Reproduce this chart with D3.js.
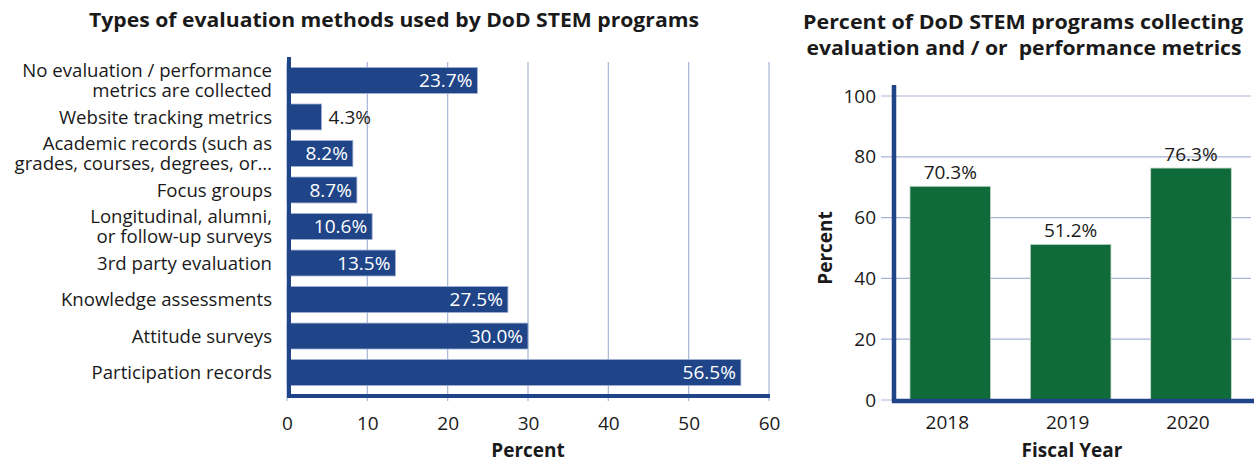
<!DOCTYPE html>
<html>
<head>
<meta charset="utf-8">
<script src="https://cdn.jsdelivr.net/npm/d3@7/dist/d3.min.js"></script>
<style>
  html, body { margin: 0; padding: 0; background: #ffffff; }
  svg { display: block; }
  text { font-family: "Open Sans", "Noto Sans", sans-serif; fill: #1a1a1a; }
</style>
</head>
<body>
<svg id="chart" width="1254" height="464"></svg>
<script>
// ---- Data: evaluation methods (left panel) ----
const methodLabels = [
  ["No evaluation / performance", "metrics are collected"],
  ["Website tracking metrics"],
  ["Academic records (such as", "grades, courses, degrees, or\u2026"],
  ["Focus groups"],
  ["Longitudinal, alumni,", "or follow-up surveys"],
  ["3rd party evaluation"],
  ["Knowledge assessments"],
  ["Attitude surveys"],
  ["Participation records"]
];
const methodValues = [23.7, 4.3, 8.2, 8.7, 10.6, 13.5, 27.5, 30.0, 56.5];
const methodTicks = [0, 10, 20, 30, 40, 50, 60];

// ---- Data: programs collecting metrics by fiscal year (right panel) ----
const fiscalYears = ["2018", "2019", "2020"];
const collectingValues = [70.3, 51.2, 76.3];
const percentTicks = [0, 20, 40, 60, 80, 100];

const BLUE = "#1f4588";
const GREEN = "#0f6b3a";
const GRID = "#a7b5d6";
const FONT = '"Open Sans", "Noto Sans", sans-serif';
const LABEL_SIZE = 18.6;

const svg = d3.select("#chart");
const fmt = v => v.toFixed(1) + "%";

// ================= Left panel: horizontal bars =================
{
  const g = svg.append("g");
  const x = d3.scaleLinear().domain([0, 60]).range([287, 769]);
  const keys = methodLabels.map((d, i) => i);
  const y = d3.scaleBand().domain(keys).range([62, 391])
    .paddingInner(0.29).paddingOuter(0.15);

  // vertical gridlines, extending a little below the baseline as ticks
  g.append("g").selectAll("line").data(methodTicks).join("line")
    .attr("x1", d => x(d)).attr("x2", d => x(d))
    .attr("y1", 62).attr("y2", 401)
    .attr("stroke", GRID).attr("stroke-width", 1.2);

  // tick labels via d3 axis
  const axis = d3.axisBottom(x).tickValues(methodTicks).tickSize(0).tickPadding(0);
  const ax = g.append("g").attr("transform", "translate(0,416)").call(axis);
  ax.select(".domain").remove();
  ax.selectAll("text").attr("font-size", 19).attr("dy", "0.71em")
    .attr("fill", "#1a1a1a").style("font-family", FONT);

  // bars
  g.append("g").selectAll("rect").data(methodValues).join("rect")
    .attr("x", x(0))
    .attr("y", (d, i) => y(i))
    .attr("width", d => x(d) - x(0))
    .attr("height", y.bandwidth())
    .attr("fill", BLUE)
    .attr("stroke", "#9fb0d4").attr("stroke-width", 0.8);

  // value labels: inside (white) when the bar is wide enough, else outside
  g.append("g").selectAll("text").data(methodValues).join("text")
    .attr("x", d => d < 6 ? x(d) + 7 : x(d) - 5)
    .attr("y", (d, i) => y(i) + y.bandwidth() / 2)
    .attr("dy", "0.36em")
    .attr("text-anchor", d => d < 6 ? "start" : "end")
    .attr("font-size", 19)
    .style("fill", d => d < 6 ? "#1a1a1a" : "#ffffff")
    .text(fmt);

  // category labels (one or two lines)
  const lab = g.append("g").selectAll("text").data(methodLabels).join("text")
    .attr("x", 272)
    .attr("y", (d, i) => y(i) + y.bandwidth() / 2)
    .attr("text-anchor", "end")
    .attr("font-size", LABEL_SIZE);
  lab.each(function (lines) {
    const t = d3.select(this);
    const lh = 19.8;
    const off = -(lines.length - 1) * lh / 2;
    lines.forEach((s, k) => {
      t.append("tspan").attr("x", 272)
        .attr("dy", k === 0 ? (off / LABEL_SIZE + 0.36) + "em" : lh + "px")
        .text(s);
    });
  });

  // thick axis lines
  g.append("line").attr("x1", 289).attr("x2", 289).attr("y1", 57).attr("y2", 398)
    .attr("stroke", BLUE).attr("stroke-width", 4);
  g.append("line").attr("x1", 287).attr("x2", 770).attr("y1", 396).attr("y2", 396)
    .attr("stroke", BLUE).attr("stroke-width", 4);

  // axis title and chart title
  g.append("text").attr("x", 528).attr("y", 457).attr("text-anchor", "middle")
    .attr("font-size", 19).attr("font-weight", 700).text("Percent");
  g.append("text").attr("x", 394).attr("y", 27).attr("text-anchor", "middle")
    .attr("font-size", 20).attr("font-weight", 700)
    .attr("textLength", 610).attr("lengthAdjust", "spacingAndGlyphs")
    .text("Types of evaluation methods used by DoD STEM programs");
}

// ================= Right panel: vertical bars =================
{
  const g = svg.append("g");
  const y = d3.scaleLinear().domain([0, 100]).range([400, 96]);
  const x = d3.scaleBand().domain(fiscalYears).range([893, 1248.3])
    .paddingInner(0.33).paddingOuter(0.141);

  // horizontal gridlines with short stubs left of the axis
  g.append("g").selectAll("line").data(percentTicks).join("line")
    .attr("x1", 881).attr("x2", 1251)
    .attr("y1", d => y(d)).attr("y2", d => y(d))
    .attr("stroke", GRID).attr("stroke-width", 1.2);

  const axis = d3.axisLeft(y).tickValues(percentTicks).tickSize(0).tickPadding(0);
  const ay = g.append("g").attr("transform", "translate(876,0)").call(axis);
  ay.select(".domain").remove();
  ay.selectAll("text").attr("font-size", 19).attr("fill", "#1a1a1a")
    .style("font-family", FONT);

  // bars
  g.append("g").selectAll("rect").data(collectingValues).join("rect")
    .attr("x", (d, i) => x(fiscalYears[i]))
    .attr("y", d => y(d))
    .attr("width", x.bandwidth())
    .attr("height", d => y(0) - y(d))
    .attr("fill", GREEN)
    .attr("stroke", "#c9d6cc").attr("stroke-width", 0.8);

  // value labels above the bars
  g.append("g").selectAll("text").data(collectingValues).join("text")
    .attr("x", (d, i) => x(fiscalYears[i]) + x.bandwidth() / 2)
    .attr("y", d => y(d) - 7)
    .attr("text-anchor", "middle")
    .attr("font-size", 19)
    .text(fmt);

  // category tick labels
  const axX = d3.axisBottom(x).tickSize(0).tickPadding(0);
  const ax = g.append("g").attr("transform", "translate(-3,415)").call(axX);
  ax.select(".domain").remove();
  ax.selectAll("text").attr("font-size", 19).attr("dy", "0.71em")
    .attr("fill", "#1a1a1a").style("font-family", FONT);

  // thick axis lines
  g.append("line").attr("x1", 894).attr("x2", 894).attr("y1", 85).attr("y2", 403)
    .attr("stroke", BLUE).attr("stroke-width", 4.5);
  g.append("line").attr("x1", 892).attr("x2", 1254).attr("y1", 401).attr("y2", 401)
    .attr("stroke", BLUE).attr("stroke-width", 4.5);

  // axis titles
  g.append("text").attr("x", 1072).attr("y", 457).attr("text-anchor", "middle")
    .attr("font-size", 19).attr("font-weight", 700).text("Fiscal Year");
  g.append("text").attr("transform", "translate(832,248) rotate(-90)")
    .attr("text-anchor", "middle")
    .attr("font-size", 19).attr("font-weight", 700).text("Percent");

  // two-line title
  g.append("text").attr("x", 1023).attr("y", 29).attr("text-anchor", "middle")
    .attr("font-size", 20).attr("font-weight", 700)
    .attr("textLength", 440).attr("lengthAdjust", "spacingAndGlyphs")
    .text("Percent of DoD STEM programs collecting");
  g.append("text").attr("x", 1024).attr("y", 55).attr("text-anchor", "middle")
    .attr("font-size", 20).attr("font-weight", 700)
    .attr("textLength", 435).attr("lengthAdjust", "spacingAndGlyphs")
    .attr("xml:space", "preserve").style("white-space", "pre")
    .text("evaluation and / or  performance metrics");
}
</script>
</body>
</html>
